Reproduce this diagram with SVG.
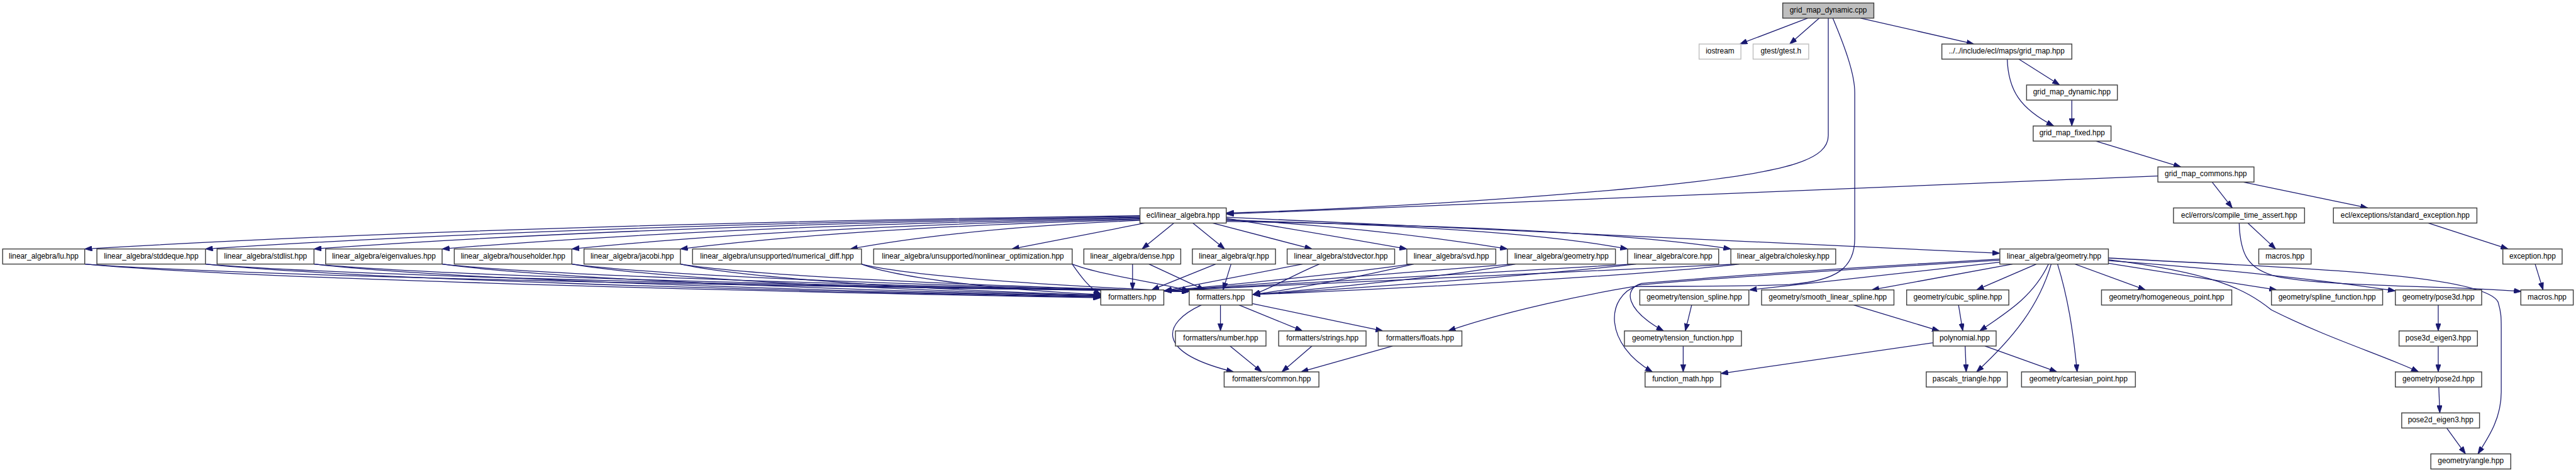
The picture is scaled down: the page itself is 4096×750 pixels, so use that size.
<svg xmlns="http://www.w3.org/2000/svg" width="4096" height="750" viewBox="0 0 4096 750">
<defs>
<style>
.n rect{fill:#fff;stroke:#404040;stroke-width:1.7}
.ext rect{stroke:#bfbfbf}
.root rect{fill:#bfbfbf}
.n text{font-family:"Liberation Sans",Arial,Helvetica,sans-serif;font-size:14.1px;text-anchor:middle;fill:#000}
.e path{fill:none;stroke:#191970;stroke-width:1.5;marker-end:url(#ah)}
</style>
<marker id="ah" markerUnits="userSpaceOnUse" viewBox="0 0 14 10" markerWidth="14" markerHeight="10" refX="14" refY="5" orient="auto">
<path d="M0,0 L14,5 L0,10 Z" fill="#191970" stroke="#191970" stroke-width="1"/>
</marker>
</defs>
<rect width="4096" height="750" fill="#fff"/>
<g transform="scale(0.8419)">
<g id="connectors" class="e">
<path d="M3414,34.2 L3286,83.1"/>
<path d="M3436,34.2 L3380,83.1"/>
<path d="M3514,34.2 L3728,83.1"/>
<path d="M3813,111.6 L3890,160.4"/>
<path d="M3913,188.9 L3913,237.8"/>
<path d="M3791,111.6 C3793,170 3815,205 3879,237.8"/>
<path d="M3958,266.3 L4119,315.1"/>
<path d="M4076,332 L2316,404"/>
<path d="M3453,34.2 L3453,256 C3453,300 3380,322 3200,343 C3000,366 2650,392 2316,402"/>
<path d="M4178,343.6 L4216,392.5"/>
<path d="M4237,343.6 L4472,392.5"/>
<path d="M4245.5,421 L4298,469.9"/>
<path d="M4229,421 C4231,480 4245,508 4300,522 C4400,542 4600,538 4762,550"/>
<path d="M4586,421 L4737,469.9"/>
<path d="M4788,498.4 L4803,547.2"/>
<path d="M2153,407 Q957,423 160,469.9"/>
<path d="M2153,408.5 Q1095,424 388,469.9"/>
<path d="M2153,410 Q1218,425 593,469.9"/>
<path d="M2153,411.5 Q1362,426 835,469.9"/>
<path d="M2153,413 Q1509,427 1080,469.9"/>
<path d="M2153,414.5 Q1632,428 1285,469.9"/>
<path d="M2153,416 Q1825,430 1606,469.9"/>
<path d="M2162,421 L1911,469.9"/>
<path d="M2217,421 L2157,469.9"/>
<path d="M2253,421 L2313,469.9"/>
<path d="M2290,421 L2478,469.9"/>
<path d="M2316,412 Q2440,432 2657,469.9"/>
<path d="M2316,414 Q2600,430 2847,469.9"/>
<path d="M2316,416 Q2850,428 3074,469.9"/>
<path d="M2316,418 Q3000,428 3269,469.9"/>
<path d="M2316,410 Q3000,440 3777,478"/>
<path d="M160,498.4 C448,525 1311,548 2079,562"/>
<path d="M160,498.4 C473,522 1394,540 2246,550"/>
<path d="M388,498.4 C642,525 1400,548 2079,561"/>
<path d="M388,498.4 C667,522 1495,540 2246,550"/>
<path d="M593,498.4 C816,525 1485,548 2079,560"/>
<path d="M593,498.4 C841,522 1585,540 2246,550"/>
<path d="M835,498.4 C1022,525 1581,548 2079,559"/>
<path d="M835,498.4 C1047,522 1682,540 2246,550"/>
<path d="M1080,498.4 C1230,525 1680,548 2079,558"/>
<path d="M1080,498.4 C1255,522 1780,540 2246,550"/>
<path d="M1285,498.4 C1404,525 1761,548 2079,557"/>
<path d="M1285,498.4 C1429,522 1862,540 2246,550"/>
<path d="M1627,498.4 C1695,525 1898,548 2079,556"/>
<path d="M1627,498.4 C1720,522 1999,540 2246,550"/>
<path d="M2025,498.4 C2040,520 2058,545 2079,555"/>
<path d="M2025,498.4 C2080,520 2200,535 2246,549"/>
<path d="M2139,498.4 L2139,547.2"/>
<path d="M2170,498.4 L2275,547.2"/>
<path d="M2296,498.4 L2175,547.2"/>
<path d="M2325,498.4 L2310,547.2"/>
<path d="M2460,498.4 L2199,549"/>
<path d="M2492,498.4 C2440,520 2400,545 2366,556"/>
<path d="M2665,498.4 C2550,515 2350,535 2199,549"/>
<path d="M2670,498.4 C2580,520 2450,545 2366,556"/>
<path d="M2857,498.4 C2700,512 2400,535 2199,549"/>
<path d="M2862,498.4 C2750,520 2500,545 2366,556"/>
<path d="M3085,498.4 C2850,512 2450,535 2199,549"/>
<path d="M3090,498.4 C2900,520 2550,545 2366,556"/>
<path d="M3280,498.4 C3000,512 2500,535 2199,549"/>
<path d="M3285,498.4 C3100,520 2650,545 2366,556"/>
<path d="M2305,575.7 L2305,624.6"/>
<path d="M2269,575.7 C2195,610 2180,665 2330,701.9"/>
<path d="M2340,575.7 L2460,624.6"/>
<path d="M2365,573 L2612,624.6"/>
<path d="M2323,653.1 L2383,701.9"/>
<path d="M2478,653.1 L2421,701.9"/>
<path d="M2630,653.1 L2457,701.9"/>
<path d="M3461.5,34.2 C3485,90 3503,140 3503,175 L3503,450 C3503,505 3470,530 3380,537 C3300,541 3150,540 3085,541 C3000,555 2850,585 2735,624.6"/>
<path d="M3777,495 L3304,547.2"/>
<path d="M3801,498.4 L3535,547.2"/>
<path d="M3846,498.4 L3733,547.2"/>
<path d="M3869,498.4 C3840,560 3790,590 3739,624.6"/>
<path d="M3874,498.4 C3850,580 3800,640 3733,701.9"/>
<path d="M3886,498.4 C3905,560 3915,620 3923,701.9"/>
<path d="M3919,498.4 L4052,547.2"/>
<path d="M3982,497 L4300,547.2"/>
<path d="M3982,492 C4200,508 4400,530 4524,549"/>
<path d="M3982,490 C4180,515 4240,545 4290,585 C4400,640 4500,670 4568,701.9"/>
<path d="M3982,487 C4300,505 4690,515 4718,570 C4724,590 4724,600 4724,620 L4724,740 C4724,790 4700,825 4680,856.7"/>
<path d="M3777,489 C3500,505 3250,522 3100,535 C3065,545 3070,585 3142,624.6"/>
<path d="M3777,491 C3500,508 3250,524 3095,538 C3030,560 3030,650 3121,701.9"/>
<path d="M3195,575.7 L3183,624.6"/>
<path d="M3179,653.1 L3179,701.9"/>
<path d="M3501,575.7 L3663,624.6"/>
<path d="M3699,575.7 L3707,624.6"/>
<path d="M3651,647 L3250,705"/>
<path d="M3711.5,653.1 L3713.5,701.9"/>
<path d="M3749,653.1 L3885,701.9"/>
<path d="M4605,575.7 L4605,624.6"/>
<path d="M4605,653.1 L4605,701.9"/>
<path d="M4606,730.4 L4608,779.3"/>
<path d="M4621,807.8 L4656.5,856.7"/>
</g>
<g id="n-cpp" class="n root"><rect x="3367" y="5.7" width="172" height="28.5"/><text x="3453" y="23.7">grid_map_dynamic.cpp</text></g>
<g id="n-iostream" class="n ext"><rect x="3209" y="83.1" width="79" height="28.5"/><text x="3248.5" y="101.1">iostream</text></g>
<g id="n-gtest" class="n ext"><rect x="3311" y="83.1" width="105" height="28.5"/><text x="3363.5" y="101.1">gtest/gtest.h</text></g>
<g id="n-grid-map" class="n"><rect x="3667.5" y="83.1" width="245.5" height="28.5"/><text x="3790" y="101.1">../../include/ecl/maps/grid_map.hpp</text></g>
<g id="n-grid-map-dynamic" class="n"><rect x="3827.5" y="160.4" width="171.5" height="28.5"/><text x="3913" y="178.4">grid_map_dynamic.hpp</text></g>
<g id="n-grid-map-fixed" class="n"><rect x="3840" y="237.8" width="147" height="28.5"/><text x="3913.5" y="255.8">grid_map_fixed.hpp</text></g>
<g id="n-grid-map-commons" class="n"><rect x="4075.5" y="315.1" width="181.5" height="28.5"/><text x="4166" y="333.1">grid_map_commons.hpp</text></g>
<g id="n-linear-algebra" class="n"><rect x="2153" y="392.5" width="163" height="28.5"/><text x="2234.5" y="410.5">ecl/linear_algebra.hpp</text></g>
<g id="n-compile-time-assert" class="n"><rect x="4105" y="392.5" width="247.5" height="28.5"/><text x="4229" y="410.5">ecl/errors/compile_time_assert.hpp</text></g>
<g id="n-standard-exception" class="n"><rect x="4407" y="392.5" width="271" height="28.5"/><text x="4542.5" y="410.5">ecl/exceptions/standard_exception.hpp</text></g>
<g id="n-lu" class="n"><rect x="5" y="469.9" width="155" height="28.5"/><text x="82.5" y="487.9">linear_algebra/lu.hpp</text></g>
<g id="n-stddeque" class="n"><rect x="183" y="469.9" width="205" height="28.5"/><text x="285.5" y="487.9">linear_algebra/stddeque.hpp</text></g>
<g id="n-stdlist" class="n"><rect x="410" y="469.9" width="183" height="28.5"/><text x="501.5" y="487.9">linear_algebra/stdlist.hpp</text></g>
<g id="n-eigenvalues" class="n"><rect x="615" y="469.9" width="220" height="28.5"/><text x="725" y="487.9">linear_algebra/eigenvalues.hpp</text></g>
<g id="n-householder" class="n"><rect x="858" y="469.9" width="222" height="28.5"/><text x="969" y="487.9">linear_algebra/householder.hpp</text></g>
<g id="n-jacobi" class="n"><rect x="1103" y="469.9" width="182" height="28.5"/><text x="1194" y="487.9">linear_algebra/jacobi.hpp</text></g>
<g id="n-numerical-diff" class="n"><rect x="1308" y="469.9" width="319" height="28.5"/><text x="1467.5" y="487.9">linear_algebra/unsupported/numerical_diff.hpp</text></g>
<g id="n-nonlinear-opt" class="n"><rect x="1650" y="469.9" width="375" height="28.5"/><text x="1837.5" y="487.9">linear_algebra/unsupported/nonlinear_optimization.hpp</text></g>
<g id="n-dense" class="n"><rect x="2047" y="469.9" width="183" height="28.5"/><text x="2138.5" y="487.9">linear_algebra/dense.hpp</text></g>
<g id="n-qr" class="n"><rect x="2252" y="469.9" width="157" height="28.5"/><text x="2330.5" y="487.9">linear_algebra/qr.hpp</text></g>
<g id="n-stdvector" class="n"><rect x="2431" y="469.9" width="203" height="28.5"/><text x="2532.5" y="487.9">linear_algebra/stdvector.hpp</text></g>
<g id="n-svd" class="n"><rect x="2657" y="469.9" width="168" height="28.5"/><text x="2741" y="487.9">linear_algebra/svd.hpp</text></g>
<g id="n-la-geometry" class="n"><rect x="2847" y="469.9" width="204" height="28.5"/><text x="2949" y="487.9">linear_algebra/geometry.hpp</text></g>
<g id="n-core" class="n"><rect x="3074" y="469.9" width="172" height="28.5"/><text x="3160" y="487.9">linear_algebra/core.hpp</text></g>
<g id="n-cholesky" class="n"><rect x="3269" y="469.9" width="198" height="28.5"/><text x="3368" y="487.9">linear_algebra/cholesky.hpp</text></g>
<g id="n-geometry" class="n"><rect x="3777" y="469.9" width="205" height="28.5"/><text x="3879.5" y="487.9">linear_algebra/geometry.hpp</text></g>
<g id="n-macros1" class="n"><rect x="4266" y="469.9" width="99" height="28.5"/><text x="4315.5" y="487.9">macros.hpp</text></g>
<g id="n-exception" class="n"><rect x="4727" y="469.9" width="112" height="28.5"/><text x="4783" y="487.9">exception.hpp</text></g>
<g id="n-formatters1" class="n"><rect x="2079" y="547.2" width="119" height="28.5"/><text x="2138.5" y="565.2">formatters.hpp</text></g>
<g id="n-formatters2" class="n"><rect x="2246" y="547.2" width="119" height="28.5"/><text x="2305.5" y="565.2">formatters.hpp</text></g>
<g id="n-tension-spline" class="n"><rect x="3097" y="547.2" width="206" height="28.5"/><text x="3200" y="565.2">geometry/tension_spline.hpp</text></g>
<g id="n-smooth-linear-spline" class="n"><rect x="3327" y="547.2" width="250" height="28.5"/><text x="3452" y="565.2">geometry/smooth_linear_spline.hpp</text></g>
<g id="n-cubic-spline" class="n"><rect x="3601" y="547.2" width="193" height="28.5"/><text x="3697.5" y="565.2">geometry/cubic_spline.hpp</text></g>
<g id="n-homogeneous-point" class="n"><rect x="3969" y="547.2" width="246" height="28.5"/><text x="4092" y="565.2">geometry/homogeneous_point.hpp</text></g>
<g id="n-spline-function" class="n"><rect x="4290" y="547.2" width="210" height="28.5"/><text x="4395" y="565.2">geometry/spline_function.hpp</text></g>
<g id="n-pose3d" class="n"><rect x="4524" y="547.2" width="163" height="28.5"/><text x="4605.5" y="565.2">geometry/pose3d.hpp</text></g>
<g id="n-macros2" class="n"><rect x="4761" y="547.2" width="99" height="28.5"/><text x="4810.5" y="565.2">macros.hpp</text></g>
<g id="n-number" class="n"><rect x="2220" y="624.6" width="171" height="28.5"/><text x="2305.5" y="642.6">formatters/number.hpp</text></g>
<g id="n-strings" class="n"><rect x="2415" y="624.6" width="165" height="28.5"/><text x="2497.5" y="642.6">formatters/strings.hpp</text></g>
<g id="n-floats" class="n"><rect x="2603" y="624.6" width="158" height="28.5"/><text x="2682" y="642.6">formatters/floats.hpp</text></g>
<g id="n-tension-function" class="n"><rect x="3068" y="624.6" width="221" height="28.5"/><text x="3178.5" y="642.6">geometry/tension_function.hpp</text></g>
<g id="n-polynomial" class="n"><rect x="3651" y="624.6" width="119" height="28.5"/><text x="3710.5" y="642.6">polynomial.hpp</text></g>
<g id="n-pose3d-eigen3" class="n"><rect x="4531" y="624.6" width="148" height="28.5"/><text x="4605" y="642.6">pose3d_eigen3.hpp</text></g>
<g id="n-common" class="n"><rect x="2312" y="701.9" width="179" height="28.5"/><text x="2401.5" y="719.9">formatters/common.hpp</text></g>
<g id="n-function-math" class="n"><rect x="3107" y="701.9" width="143" height="28.5"/><text x="3178.5" y="719.9">function_math.hpp</text></g>
<g id="n-pascals-triangle" class="n"><rect x="3638" y="701.9" width="153" height="28.5"/><text x="3714.5" y="719.9">pascals_triangle.hpp</text></g>
<g id="n-cartesian-point" class="n"><rect x="3818" y="701.9" width="215" height="28.5"/><text x="3925.5" y="719.9">geometry/cartesian_point.hpp</text></g>
<g id="n-pose2d" class="n"><rect x="4524" y="701.9" width="163" height="28.5"/><text x="4605.5" y="719.9">geometry/pose2d.hpp</text></g>
<g id="n-pose2d-eigen3" class="n"><rect x="4536" y="779.3" width="147" height="28.5"/><text x="4609.5" y="797.3">pose2d_eigen3.hpp</text></g>
<g id="n-angle" class="n"><rect x="4591" y="856.7" width="151" height="28.5"/><text x="4666.5" y="874.7">geometry/angle.hpp</text></g>
</g>
</svg>
